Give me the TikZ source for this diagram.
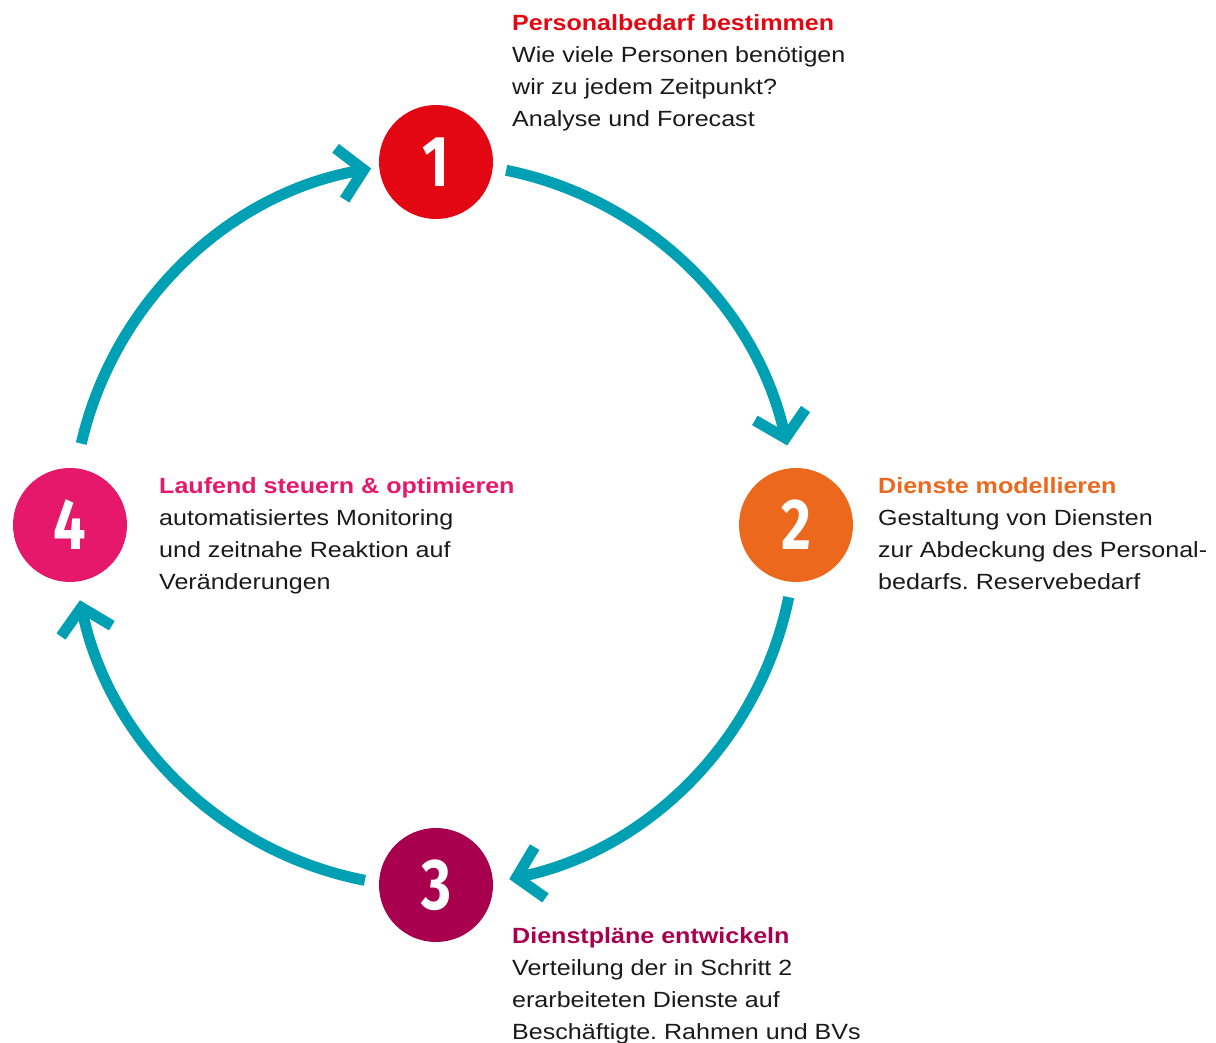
\documentclass[tikz,border=0pt]{standalone}
\usepackage{fontspec}
\setmainfont{Liberation Sans}[FakeStretch=1.14]
\newfontfamily\numfont{Fira Sans}[FakeStretch=0.8]
\usetikzlibrary{arrows.meta}
\frenchspacing

\definecolor{stepred}{RGB}{227,6,19}
\definecolor{steporange}{RGB}{236,104,28}
\definecolor{stepplum}{RGB}{168,0,78}
\definecolor{steppink}{RGB}{229,24,107}
\definecolor{flowteal}{RGB}{0,160,180}
\definecolor{bodyblack}{RGB}{26,26,26}

\begin{document}
\begin{tikzpicture}[x=1pt,y=1pt,
  stepdot/.style={circle, minimum size=114pt, inner sep=0pt, text=white,
    font=\numfont\bfseries\fontsize{72}{72}\selectfont},
  steptext/.style={anchor=base west, align=left, inner sep=0pt, text=bodyblack,
    font=\fontsize{22}{32}\selectfont},
  flow/.style={line width=11pt, draw=flowteal,
    -{Straight Barb[length=24pt,width=52pt,line join=miter]}}]
  % Frame
  \useasboundingbox (-434,-518) rectangle (782,525);

  % Radius of the cycle
  \def\R{362}

  % Steps
  \node[stepdot, fill=stepred] (n1) at (2,363) {1};
  \node[stepdot, fill=steporange] (n2) at (362,0) {2};
  \node[stepdot, fill=stepplum] (n3) at (2,-360) {3};
  \node[stepdot, fill=steppink] (n4) at (-364,0) {4};

  % Texts (placed at the baseline of their last line)
  \node[steptext] (t1) at (78,398) {\textcolor{stepred}{\bfseries Personalbedarf bestimmen}\\
    Wie viele Personen benötigen\\ wir zu jedem Zeitpunkt?\\ Analyse und Forecast};
  \node[steptext] (t2) at (444,-65) {\textcolor{steporange}{\bfseries Dienste modellieren}\\
    Gestaltung von Diensten\\ zur Abdeckung des Personal-\\ bedarfs. Reservebedarf};
  \node[steptext] (t3) at (78,-514) {\textcolor{stepplum}{\bfseries Dienstpläne entwickeln}\\
    Verteilung der in Schritt 2\\ erarbeiteten Dienste auf\\ Beschäftigte. Rahmen und BVs};
  \node[steptext] (t4) at (-275,-65) {\textcolor{steppink}{\bfseries Laufend steuern \& optimieren}\\
    automatisiertes Monitoring\\ und zeitnahe Reaktion auf\\ Veränderungen};

  % Arrows
  \coordinate (s1) at (78.5:\R);
  \coordinate (s2) at (-11.5:\R);
  \coordinate (s3) at (-101:\R);
  \coordinate (s4) at (167:\R);
  \draw[flow] (s1) arc[start angle=78.5, end angle=12.7, radius=\R];
  \draw[flow] (s2) arc[start angle=-11.5, end angle=-78, radius=\R];
  \draw[flow] (s3) arc[start angle=-101, end angle=-168, radius=\R];
  \draw[flow] (s4) arc[start angle=167, end angle=100, radius=\R];
\end{tikzpicture}
\end{document}
